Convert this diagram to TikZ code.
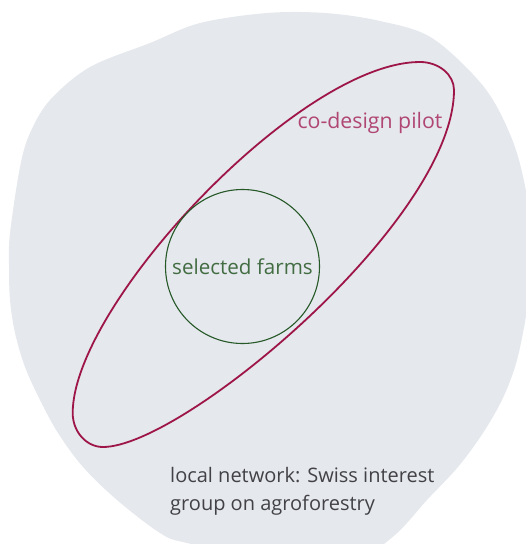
\documentclass[tikz,border=0pt]{standalone}
\usepackage{fontspec}
\setmainfont{Open Sans}
\usetikzlibrary{positioning}

\definecolor{netgrey}{RGB}{229,232,237}
\definecolor{pilotred}{RGB}{158,22,72}
\definecolor{pilottext}{RGB}{176,70,115}
\definecolor{farmgreen}{RGB}{38,88,40}
\definecolor{farmtext}{RGB}{66,108,66}
\definecolor{nettext}{RGB}{66,66,70}

\begin{document}
\begin{tikzpicture}[
    x=1pt, y=-1pt,
    lbl/.style={inner sep=0pt},
    farm/.style={circle, draw=farmgreen, line width=1.1pt, minimum size=154pt, inner sep=0pt,
        text=farmtext, font=\fontsize{20.6}{26}\selectfont},
    pilotline/.style={draw=pilotred, line width=1.8pt}
]
\clip (0,0) rectangle (526,544);
\useasboundingbox (0,0) rectangle (526,544);

% local network
\fill[netgrey] plot[smooth cycle, tension=0.55] coordinates {
    (267,13) (325,13) (380,21) (432,38) (484,87) (512,139) (526,191) (532,245)
    (528,300) (523,333) (515,367) (502,400) (483,433) (458,467) (427,500)
    (395,535) (360,556) (290,564) (187,543) (160,533) (117,500) (83,467)
    (58,433) (40,400) (25,367) (15,333) (10,300) (9,265) (10,233) (20,167)
    (30,133) (50,100) (90,67) (150,43) (200,23)};

% co-design pilot
\coordinate (pl) at (72.7,413);
\coordinate (pt) at (420,62);
\coordinate (pr) at (454,90);
\coordinate (pb) at (103,447);
\draw[pilotline] (pl) .. controls (72.7,305) and (300,62) .. (pt)
    .. controls (438.7,62) and (454,74.6) .. (pr)
    .. controls (454,220) and (183,447) .. (pb)
    .. controls (86.3,447) and (72.7,431.7) .. (pl) -- cycle;

\node[farm] (farms) at (242.5,266.5) {selected farms};
\node[lbl, text=pilottext, font=\fontsize{21.3}{26}\selectfont, anchor=base] (pilot)
    at (370,128) {co-design pilot};
\node[lbl, text=nettext, font=\fontsize{20}{28}\selectfont, anchor=base west, align=left]
    (network) at (170,510) {local network: Swiss interest\\group on agroforestry};
\end{tikzpicture}
\end{document}
